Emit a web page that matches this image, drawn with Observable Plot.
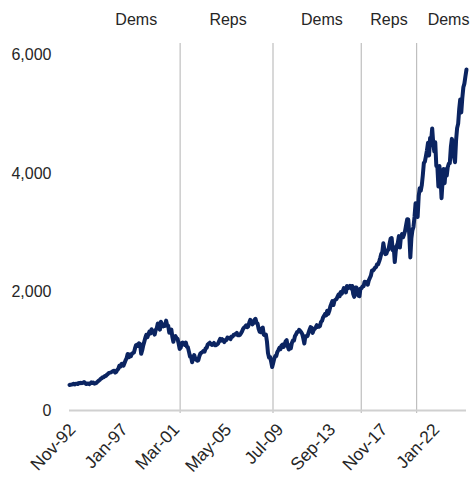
<!DOCTYPE html>
<html>
<head>
<meta charset="utf-8">
<script src="https://cdn.jsdelivr.net/npm/d3@7"></script>
<script src="https://cdn.jsdelivr.net/npm/@observablehq/plot@0.6"></script>
<style>
  body { margin: 0; background: #fff; }
  #chart svg { display: block; }
</style>
</head>
<body>
<div id="chart"></div>
<script>
// Monthly index level, first month Nov 1992
const firstYear = 1992;
const firstMonth = 10; // November (0-based)
const levels = [
  431, 436,
  439, 443, 452, 440, 450, 451, 448, 464, 459, 468, 462, 466,
  482, 467, 446, 451, 457, 444, 458, 475, 463, 472, 454, 459,
  470, 487, 501, 515, 533, 545, 562, 562, 584, 582, 605, 616,
  636, 640, 646, 654, 669, 671, 640, 652, 687, 705, 757, 741,
  786, 791, 757, 801, 848, 885, 954, 899, 947, 915, 955, 970,
  980, 1049, 1102, 1112, 1091, 1134, 1121, 957, 1017, 1099, 1164, 1229,
  1280, 1238, 1286, 1335, 1302, 1373, 1329, 1320, 1283, 1363, 1389, 1469,
  1394, 1366, 1499, 1452, 1421, 1455, 1431, 1518, 1437, 1429, 1315, 1320,
  1366, 1240, 1160, 1249, 1256, 1224, 1211, 1134, 1041, 1060, 1139, 1148,
  1130, 1107, 1147, 1077, 1067, 990, 912, 916, 815, 886, 936, 880,
  856, 841, 848, 917, 964, 975, 990, 1008, 996, 1051, 1058, 1112,
  1131, 1145, 1126, 1107, 1121, 1141, 1102, 1104, 1115, 1130, 1174, 1212,
  1181, 1204, 1181, 1157, 1192, 1191, 1234, 1220, 1229, 1207, 1249, 1248,
  1280, 1281, 1295, 1311, 1270, 1270, 1277, 1304, 1336, 1378, 1401, 1418,
  1438, 1407, 1421, 1482, 1531, 1503, 1455, 1474, 1527, 1549, 1481, 1468,
  1379, 1331, 1323, 1386, 1400, 1280, 1267, 1283, 1165, 969, 896, 903,
  826, 735, 798, 873, 919, 919, 987, 1021, 1057, 1036, 1096, 1115,
  1074, 1104, 1169, 1187, 1089, 1031, 1102, 1049, 1141, 1183, 1181, 1258,
  1286, 1327, 1326, 1364, 1345, 1321, 1292, 1219, 1131, 1253, 1247, 1258,
  1312, 1366, 1408, 1398, 1310, 1362, 1379, 1406, 1441, 1412, 1416, 1426,
  1498, 1515, 1569, 1598, 1631, 1606, 1686, 1633, 1682, 1757, 1806, 1848,
  1783, 1859, 1872, 1884, 1924, 1960, 1931, 2003, 1972, 2018, 2068, 2059,
  1995, 2105, 2068, 2086, 2107, 2063, 2104, 1972, 1920, 2079, 2080, 2044,
  1940, 1932, 2060, 2065, 2097, 2099, 2174, 2171, 2168, 2126, 2199, 2239,
  2279, 2364, 2363, 2384, 2412, 2423, 2470, 2472, 2519, 2575, 2648, 2674,
  2824, 2714, 2641, 2648, 2705, 2718, 2816, 2902, 2914, 2712, 2760, 2507,
  2704, 2784, 2834, 2946, 2752, 2942, 2980, 2926, 2977, 3038, 3141, 3231,
  3226, 2954, 2585, 2912, 3044, 3100, 3271, 3500, 3363, 3270, 3622, 3756,
  3714, 3811, 3973, 4181, 4204, 4298, 4395, 4523, 4308, 4605, 4567, 4766,
  4516, 4374, 4530, 4132, 4132, 3785, 4130, 3955, 3586, 3872, 4080, 3840,
  4077, 3970, 4109, 4169, 4180, 4450, 4589, 4508, 4288, 4194, 4568, 4770,
  4846, 5096, 5254, 5036, 5278, 5460, 5522, 5648, 5762
];

// x-axis tick labels (every 50 months)
const tickDates = ["1992-11-01", "1997-01-01", "2001-03-01", "2005-05-01",
                   "2009-07-01", "2013-09-01", "2017-11-01", "2022-01-01"];
const tickLabels = ["Nov-92", "Jan-97", "Mar-01", "May-05", "Jul-09", "Sep-13", "Nov-17", "Jan-22"];

// y-axis ticks
const yTicks = [0, 2000, 4000, 6000];
const yMax = 6200;

// Party-change divider lines and party labels
const dividerDates = ["2001-09-15", "2009-02-25", "2016-03-25", "2020-09-01"];
const partyLabels = ["Dems", "Reps", "Dems", "Reps", "Dems"];
const partyLabelDates = ["1998-03-10", "2005-07-20", "2013-01-25", "2018-06-15", "2023-03-25"];

// Build tables for the library
const series = levels.map((v, i) => ({
  date: new Date(Date.UTC(firstYear, firstMonth + i, 1)),
  value: v
}));
const ticks = tickDates.map(d => new Date(d + "T00:00:00Z"));
const labelMap = new Map(ticks.map((t, i) => [+t, tickLabels[i]]));
const dividers = dividerDates.map(d => new Date(d + "T00:00:00Z"));
const parties = partyLabels.map((p, i) => ({ label: p, date: new Date(partyLabelDates[i] + "T00:00:00Z") }));

const textColor = "#262626";
const lineColor = "#0b2461";

const chart = Plot.plot({
  width: 472,
  height: 480,
  marginLeft: 69,
  marginRight: 6,
  marginTop: 43,
  marginBottom: 70,
  style: { fontFamily: "'Liberation Sans', Arial, sans-serif", fontSize: "16px", color: textColor, background: "#fff" },
  x: {
    type: "utc",
    domain: [series[0].date, series[series.length - 1].date]
  },
  y: { domain: [0, yMax] },
  marks: [
    Plot.ruleX(dividers, { stroke: "#bfbfbf", strokeWidth: 1.2, insetBottom: -3 }),
    Plot.ruleY([0], { stroke: "#d0d0d0", strokeWidth: 2 }),
    Plot.lineY(series, { x: "date", y: "value", stroke: lineColor, strokeWidth: 4, strokeLinejoin: "round", strokeLinecap: "round" }),
    Plot.text(parties, { x: "date", text: "label", frameAnchor: "top", dy: -30, fontSize: 16, fill: textColor }),
    Plot.axisY({ ticks: yTicks, tickSize: 0, tickPadding: 18, tickFormat: d3.format(","), label: null, fontSize: 16 }),
    Plot.axisX({ ticks: ticks, tickSize: 0, tickPadding: 16, dx: 3, tickRotate: -47, tickFormat: d => labelMap.get(+d), label: null, fontSize: 17.5 })
  ]
});

document.getElementById("chart").appendChild(chart);
</script>
</body>
</html>
